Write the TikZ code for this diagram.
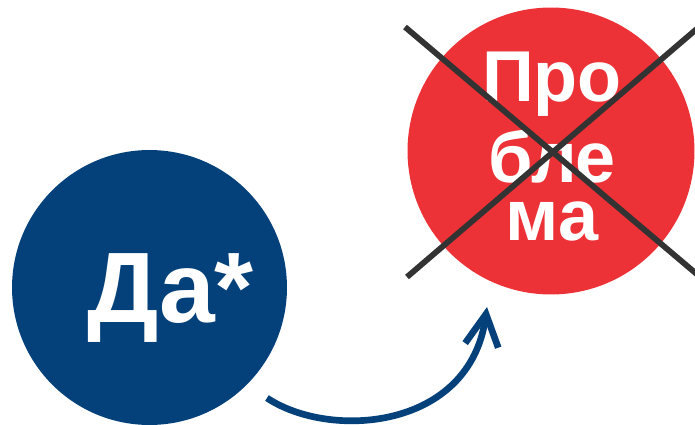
\documentclass[tikz,border=0pt]{standalone}
\usepackage{fontspec}
\newfontfamily\discfont{Liberation Sans}
\usetikzlibrary{arrows.meta,calc}
\definecolor{yesblue}{RGB}{4,65,122}
\definecolor{probred}{RGB}{237,50,55}
\definecolor{crossgray}{RGB}{51,51,51}

\begin{document}
\begin{tikzpicture}[x=0.02cm, y=-0.02cm,
    disc/.style={circle, inner sep=0pt, minimum size=#1},
    word/.style={text=white, inner sep=0pt, anchor=base},
    cross/.style={crossgray, line width=3.3pt}]
  \useasboundingbox (0,0) rectangle (695,425);

  \node[disc=5.5cm, fill=yesblue] (yes) at (149.5,287.5) {};
  \node[disc=5.74cm, fill=probred] (prob) at (551,151) {};

  \node[word, font=\discfont\bfseries\fontsize{57}{57}\selectfont] (yestext) at (171,322) {Да*};
  \node[word, align=center, font=\discfont\bfseries\fontsize{41}{33}\selectfont] (probtext) at (552,240)
    {Про\\[6.2pt]бле\\ма};

  \coordinate (c1) at ($(prob)+(-146,-124)$);
  \coordinate (c2) at ($(prob)+(148,125)$);
  \coordinate (c3) at ($(prob)+(-144,126)$);
  \coordinate (c4) at ($(prob)+(148,-124)$);
  \draw[cross] (c1) -- (c2);
  \draw[cross] (c3) -- (c4);

  \coordinate (arrtail) at (267,398);
  \coordinate (arrtip) at (487,307);
  \draw[yesblue, line width=3.8pt, -{Straight Barb[length=18pt, width=19pt, line width=3.8pt]}]
    (arrtail) .. controls (330,440) and (470,430) .. (arrtip);
\end{tikzpicture}
\end{document}
